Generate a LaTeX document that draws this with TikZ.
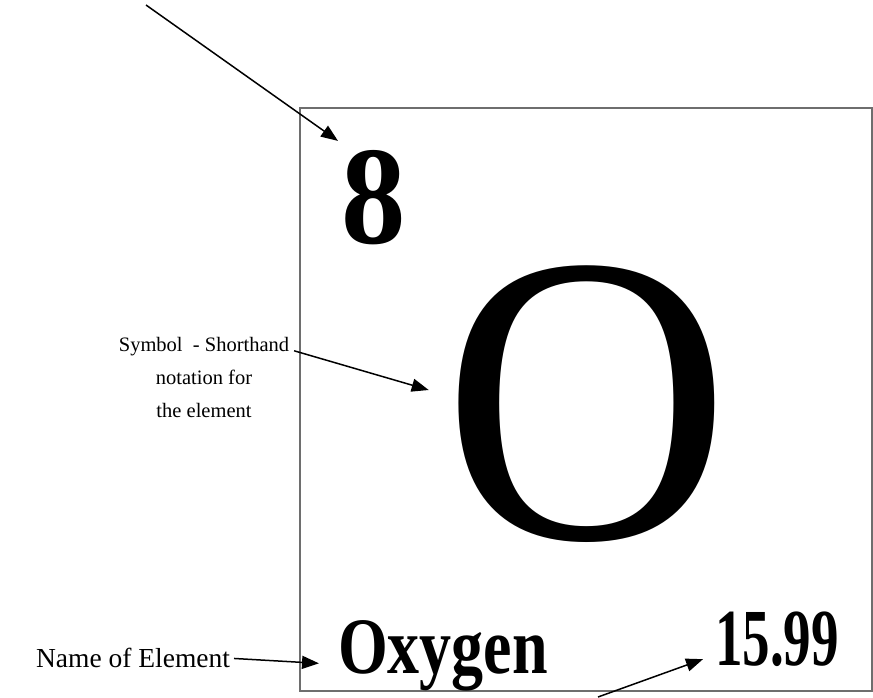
\documentclass[tikz,border=0pt]{standalone}
\usepackage{fontspec}
\usepackage{graphicx}
\setmainfont{Liberation Serif}
\usetikzlibrary{arrows.meta,calc,positioning}
\definecolor{rahmen}{HTML}{6E6E6E}

\begin{document}
\begin{tikzpicture}[x=1pt,y=-1pt,>={Triangle[length=17pt,width=13pt]},line width=1.5pt,
    every node/.style={inner sep=0pt,outer sep=0pt}]
  \useasboundingbox (0,0) rectangle (873,697);
  \draw[rahmen] (300,108) rectangle (872,691);
  \node[anchor=base west,font=\bfseries\fontsize{140}{140}\selectfont] (num) at (341,243) {\scalebox{0.92}[1]{8}};
  \node[font=\fontsize{412}{412}\selectfont] (sym) at (587,404) {\scalebox{0.97}[1]{O}};
  \node[anchor=base west,font=\bfseries\fontsize{80}{80}\selectfont] (name) at (338,673) {\scalebox{0.8}[1]{Oxygen}};
  \node[anchor=base west,font=\bfseries\fontsize{81}{81}\selectfont] (mass) at (715,665) {\scalebox{0.68}[1]{15.99}};
  \node[anchor=base,align=center,font=\fontsize{20.5}{33}\selectfont] (symtext) at (204,417)
    {Symbol \ - Shorthand\\ notation for\\ the element};
  \node[anchor=base east,font=\fontsize{27.5}{27.5}\selectfont] (nametext) at (230,667) {Name of Element};
  \coordinate (numfrom) at (146,5);
  \coordinate (massfrom) at (598,697);
  \draw[->] (numfrom) -- ($(num.north west)+(-3,-9)$);
  \draw[->] ($(symtext.north east)+(5,14)$) -- ($(sym.west)+(-14,-14)$);
  \draw[->] ($(nametext.east)+(4,1)$) -- ($(name.west)+(-19,8)$);
  \draw[->] (massfrom) -- ($(mass.south west)+(-12,-7)$);
\end{tikzpicture}
\end{document}
